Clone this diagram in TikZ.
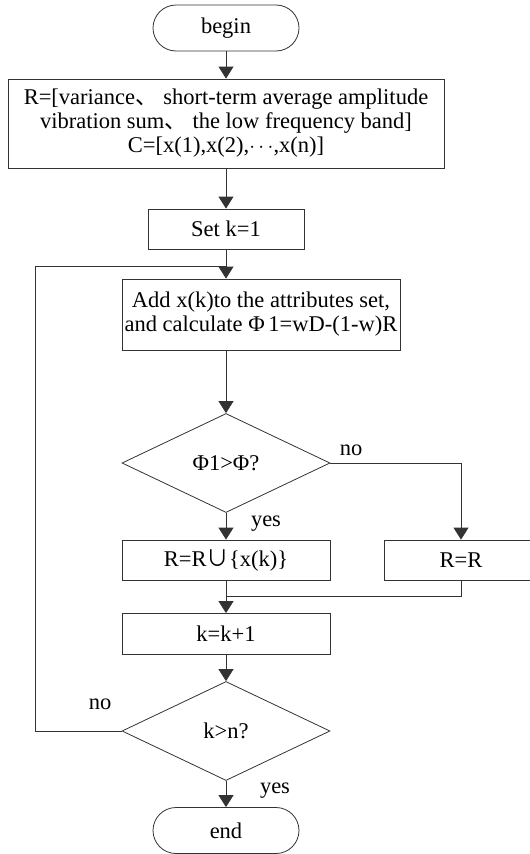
\documentclass[tikz,border=0pt]{standalone}
\usepackage{fontspec}
\setmainfont{Liberation Serif}
\newfontfamily\cjk{Noto Sans CJK SC}
\usetikzlibrary{shapes.geometric,arrows.meta}

\begin{document}
\begin{tikzpicture}[x=1pt,y=-1pt,
	font=\fontsize{22.5}{24}\selectfont,
	flowline/.style={draw=black!80,line width=0.8pt},
	arr/.style={flowline,-{Triangle[width=15pt,length=12pt]}},
	term/.style={flowline,rectangle,rounded corners=23pt,minimum width=146pt,minimum height=46pt,inner sep=0pt},
	proc/.style={flowline,rectangle,inner sep=0pt},
	decision/.style={flowline,diamond,aspect=2,inner sep=0pt,minimum width=208pt,minimum height=99pt}]
	\useasboundingbox (0,0) rectangle (530,854);
	\node[term] (begin) at (226,28) {begin};
	\node[proc,minimum width=436pt,minimum height=89pt,align=center] (init) at (226,123.5) {R=[variance{\cjk 、} short-term average amplitude\\ vibration sum{\cjk 、} the low frequency band]\hspace*{44pt}\\ C=[x(1),x(2),$\cdots$,x(n)]};
	\node[proc,minimum width=156pt,minimum height=40pt] (setk) at (226,229) {Set k=1};
	\node[proc,minimum width=278pt,minimum height=71pt,align=center] (add) at (261,314.5) {Add x(k)to the attributes set,\\ and calculate Φ\,1=wD-(1-w)R};
	\node[decision] (cmp1) at (226,463) {Φ1>Φ?};
	\node[proc,minimum width=208pt,minimum height=40pt] (rxk) at (226,560) {R=R{\cjk ∪}\{x(k)\}};
	\node[proc,minimum width=154pt,minimum height=40pt] (rr) at (461,560) {R=R};
	\node[proc,minimum width=208pt,minimum height=41pt] (inc) at (226,634) {k=k+1};
	\node[decision] (cmp2) at (226,731) {k>n?};
	\node[term] (end) at (226,830.5) {end};
	\coordinate (loop) at (226,266);
	\coordinate (merge) at (226,596);
	% main flow
	\draw[arr] (begin) -- (init);
	\draw[arr] (init) -- (setk);
	\draw[arr] (setk.south) -- (setk.south |- add.north);
	\draw[arr] (cmp1.north |- add.south) -- (cmp1);
	\draw[arr] (cmp1) -- (rxk);
	\draw[arr] (cmp1.east) -| (rr.north);
	\draw[flowline] (rr.south) |- (merge);
	\draw[arr] (rxk) -- (inc);
	\draw[arr] (inc) -- (cmp2);
	\draw[arr] (cmp2) -- (end);
	% back to the loop
	\draw[flowline] (cmp2.west) -- ++(-86,0) |- (loop);
	\node (no1) at (351,450) {no};
	\node (yes1) at (266,524) {yes};
	\node (no2) at (100,704) {no};
	\node (yes2) at (275,791) {yes};
\end{tikzpicture}
\end{document}
